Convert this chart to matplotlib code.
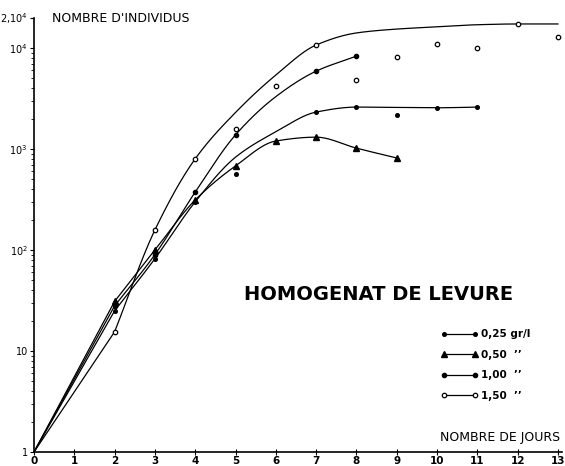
import numpy as np
import matplotlib
matplotlib.use('Agg')
from matplotlib import pyplot as plt
from matplotlib.lines import Line2D


# observed points (days, individuals)
days_025 = [0, 2, 3, 4, 5, 7, 8, 9, 10, 11]
obs_025  = [1, 25, 82, 300, 565, 2320, 2600, 2170, 2550, 2600]
days_050 = [0, 2, 3, 4, 5, 6, 7, 8, 9]
obs_050  = [1, 31, 100, 313, 680, 1200, 1310, 1020, 815]
days_100 = [0, 2, 3, 4, 5, 7, 8]
obs_100  = [1, 28, 90, 375, 1380, 5900, 8300]
days_150 = [0, 2, 3, 4, 5, 6, 7, 8, 9, 10, 11, 12, 13]
obs_150  = [1, 15.5, 158, 800, 1580, 4200, 10700, 4800, 8150, 10900, 10000, 17300, 12800]

# hand-drawn curves
cdays_025 = [0, 2, 3, 4, 5, 6, 7, 8, 9, 10, 11]
curve_025 = [1, 25, 82, 300, 830, 1480, 2320, 2600, 2580, 2560, 2600]
cdays_050 = [0, 2, 3, 4, 5, 6, 7, 8, 9]
curve_050 = [1, 31, 100, 313, 680, 1200, 1310, 1020, 815]
cdays_100 = [0, 2, 3, 4, 5, 6, 7, 8]
curve_100 = [1, 28, 90, 375, 1380, 3300, 5900, 8300]
cdays_150 = [0, 2, 3, 4, 5, 6, 7, 8, 9, 10, 11, 12, 13]
curve_150 = [1, 15.5, 158, 800, 2300, 5400, 10700, 14100, 15400, 16200, 17000, 17300, 17300]

labels = ['0,25 gr/l', '0,50  \u2019\u2019', '1,00  \u2019\u2019', '1,50  \u2019\u2019']


def pchip(x, y, xs):
	# monotone cubic (Fritsch-Carlson) so the curves don't overshoot
	x = np.asarray(x, float); y = np.asarray(y, float)
	h = np.diff(x); d = np.diff(y) / h
	m = np.zeros_like(y)
	for k in range(1, len(x) - 1):
		if d[k-1] * d[k] > 0:
			w1 = 2*h[k] + h[k-1]; w2 = h[k] + 2*h[k-1]
			m[k] = (w1 + w2) / (w1/d[k-1] + w2/d[k])
	m[0], m[-1] = d[0], d[-1]
	i = np.clip(np.searchsorted(x, xs) - 1, 0, len(x) - 2)
	t = (xs - x[i]) / h[i]
	h00 = 2*t**3 - 3*t**2 + 1; h10 = t**3 - 2*t**2 + t
	h01 = -2*t**3 + 3*t**2;    h11 = t**3 - t**2
	return h00*y[i] + h10*h[i]*m[i] + h01*y[i+1] + h11*h[i]*m[i+1]


def smooth(cd, cv):
	# straight line from the origin to day 2, smooth curve after that
	xs = np.linspace(cd[1], cd[-1], 300)
	ys = 10**pchip(cd[1:], np.log10(cv[1:]), xs)
	return np.r_[cd[0], xs], np.r_[cv[0], ys]


fig = plt.figure(figsize=(5.65, 4.66), dpi=100)
ax = fig.add_axes([34/565, 14/466, 528/565, 434.4/466])

series = [
	(days_025, obs_025, cdays_025, curve_025, dict(marker='o', ms=2.6, mfc='k')),
	(days_050, obs_050, cdays_050, curve_050, dict(marker='^', ms=4.0, mfc='k')),
	(days_100, obs_100, cdays_100, curve_100, dict(marker='o', ms=3.0, mfc='k')),
	(days_150, obs_150, cdays_150, curve_150, dict(marker='o', ms=3.2, mfc='white', mew=0.9)),
]
handles = []
for d, o, cd, cv, mk in series:
	xs, ys = smooth(cd, cv)
	ax.plot(xs, ys, color='k', lw=0.9, zorder=2)
	ax.plot(d[1:], o[1:], ls='none', color='k', zorder=3, **mk)
	handles.append(Line2D([], [], color='k', lw=0.9, **mk))

ax.set_yscale('log')
ax.set_xlim(0, 13.1)
ax.set_ylim(1, 2e4)
ax.spines['top'].set_visible(False)
ax.spines['right'].set_visible(False)
ax.spines['left'].set_linewidth(1.2)
ax.spines['bottom'].set_linewidth(1.2)

ax.set_xticks(range(14))
ax.set_xticklabels([str(i) for i in range(14)], fontsize=7.5, fontweight='bold')
ax.tick_params(axis='x', direction='inout', length=4, width=0.8, pad=1)
ax.set_yticks([1, 10, 100, 1000, 1e4, 2e4])
ax.set_yticklabels(['1', '10', '$10^2$', '$10^3$', '$10^4$', '2,$10^4$'], fontsize=7)
ax.tick_params(axis='y', which='major', direction='out', length=3, width=0.8, pad=1.5)
ax.tick_params(axis='y', which='minor', direction='out', length=2, width=0.6)

fig.text(52/565, 1 - 18/466, "NOMBRE D'INDIVIDUS", fontsize=9, va='center', ha='left')
fig.text(560/565, 1 - 438/466, 'NOMBRE DE JOURS', fontsize=9, va='center', ha='right')
fig.text(379/565, 1 - 295/466, 'HOMOGENAT DE LEVURE', fontsize=14, fontweight='bold',
		 va='center', ha='center')

leg = ax.legend(handles, labels, loc='upper left', bbox_to_anchor=(431/565, 1 - 320/466),
				bbox_transform=fig.transFigure, frameon=False, fontsize=7.5,
				handlelength=3.6, handletextpad=0.3, labelspacing=1.0, numpoints=2)
for t in leg.get_texts():
	t.set_fontweight('bold')

fig.savefig('out.png', dpi=100)
